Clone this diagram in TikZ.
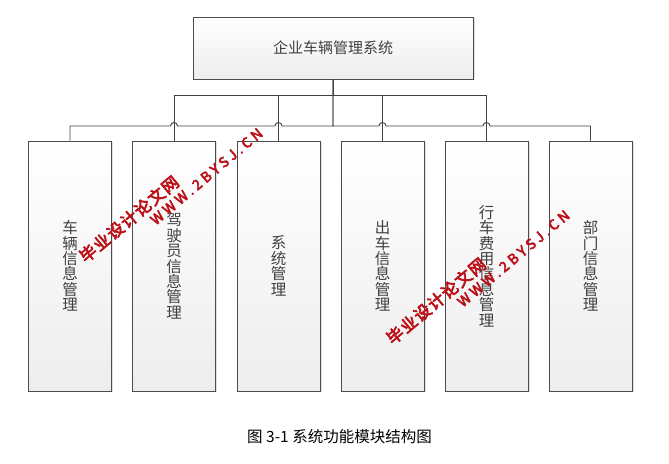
\documentclass[tikz,border=0pt]{standalone}
\usepackage{fontspec}
\newfontfamily\cjk{Noto Sans CJK SC}
\newfontfamily\markfont[FakeBold=4]{Noto Sans CJK SC}
\usetikzlibrary{shadows}
\definecolor{linegray}{HTML}{404040}
\definecolor{markred}{HTML}{BC1018}

\begin{document}
\begin{tikzpicture}[x=1pt,y=1pt]
\tikzset{topbox/.style={draw=black!70,line width=0.9pt,top color=white,bottom color=black!7,
  drop shadow={opacity=0.25,shadow xshift=1.5pt,shadow yshift=-1.5pt},
  minimum width=280pt,minimum height=62pt,text=black!75,font=\cjk\fontsize{15}{18}\selectfont}}
\tikzset{subbox/.style={topbox,minimum width=83pt,minimum height=250pt,align=center,
  font=\cjk\fontsize{15.5}{15.4}\selectfont}}
\tikzset{link/.style={draw=linegray,line width=0.9pt}}
\tikzset{stamp/.style={text=markred,rotate=40,inner sep=0pt}}
\useasboundingbox (0,0) rectangle (669,463);
\node[topbox] (root) at (333,415) {企业车辆管理系统};
\node[subbox] (car) at (70,197) {车\\辆\\信\\息\\管\\理};
\node[subbox] (driver) at (174,197) {驾\\驶\\员\\信\\息\\管\\理};
\node[subbox] (sys) at (278.5,197) {系\\统\\管\\理};
\node[subbox] (out) at (382.5,197) {出\\车\\信\\息\\管\\理};
\node[subbox] (cost) at (486.5,197) {行\\车\\费\\用\\信\\息\\管\\理};
\node[subbox] (dept) at (590.5,197) {部\\门\\信\\息\\管\\理};
% buses
\coordinate (upbus) at (0,368);
\coordinate (lowbus) at (0,337);
\foreach \c in {driver,sys,out,cost}
  \draw[link] (root.south) |- (\c.north |- upbus) -- (\c.north);
\coordinate (h2) at (driver.north |- lowbus);
\coordinate (h3) at (sys.north |- lowbus);
\coordinate (h4) at (out.north |- lowbus);
\coordinate (h5) at (cost.north |- lowbus);
\draw[link] (root.south) |- ([xshift=3.5pt]h3) arc[start angle=0,end angle=180,radius=3.5pt]
  -- ([xshift=3.5pt]h2) arc[start angle=0,end angle=180,radius=3.5pt] -| (car.north);
\draw[link] (root.south) |- ([xshift=-3.5pt]h4) arc[start angle=180,end angle=0,radius=3.5pt]
  -- ([xshift=-3.5pt]h5) arc[start angle=180,end angle=0,radius=3.5pt] -| (dept.north);
\node (caption) at (339.5,26) {\cjk\fontsize{15.5}{17}\selectfont 图 3-1 系统功能模块结构图};
% watermark
\node[stamp] (stamp1a) at (129,244) {\markfont\fontsize{16.5}{16}\selectfont\addfontfeature{LetterSpace=8}毕业设计论文网};
\node[stamp] (stamp1b) at (206.5,286.5) {\markfont\fontsize{14}{14}\selectfont\addfontfeature{LetterSpace=25}WWW.2BYSJ.CN};
\node[stamp] (stamp2a) at (436,162) {\markfont\fontsize{16.5}{16}\selectfont\addfontfeature{LetterSpace=8}毕业设计论文网};
\node[stamp] (stamp2b) at (513.5,204.5) {\markfont\fontsize{14}{14}\selectfont\addfontfeature{LetterSpace=25}WWW.2BYSJ.CN};
\end{tikzpicture}
\end{document}
